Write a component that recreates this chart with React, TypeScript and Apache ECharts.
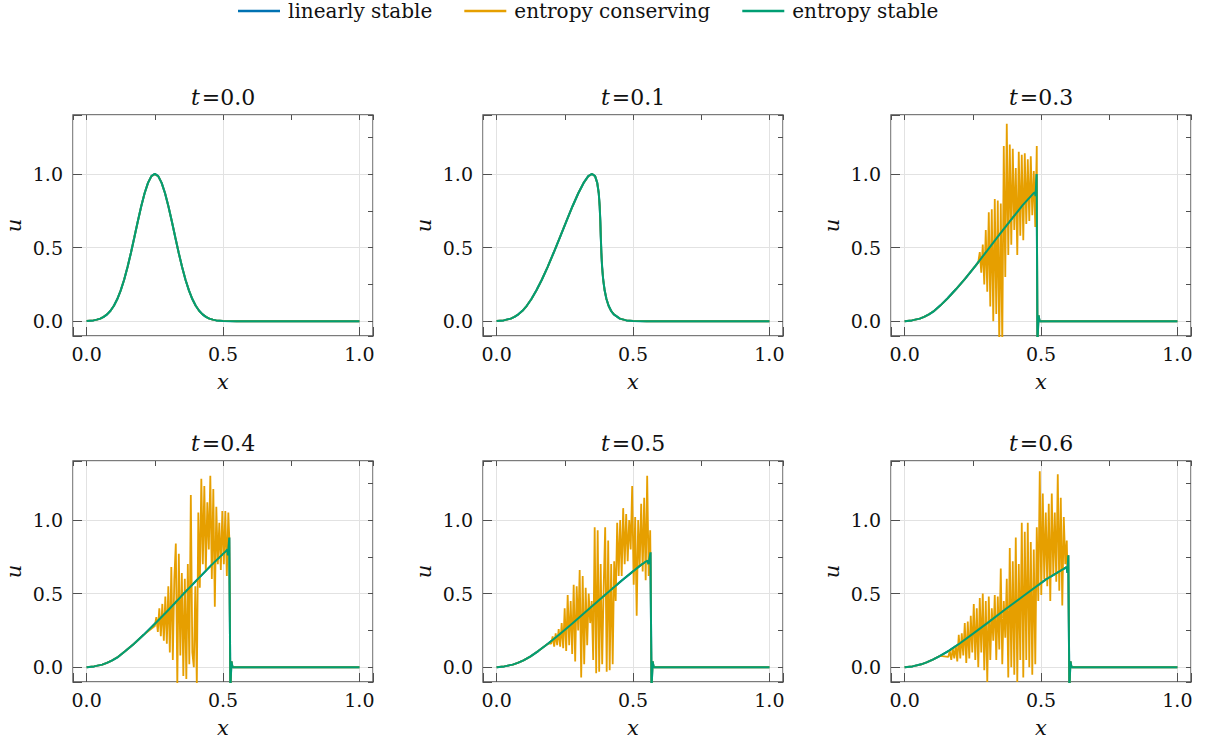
import React, { useEffect, useRef } from "react";
import * as echarts from "echarts";

const SERIES_NAMES = ["linearly stable", "entropy conserving", "entropy stable"];
const COLORS = ["#0072B2", "#E69F00", "#009E73"];
const TIMES = ["0.0", "0.1", "0.3", "0.4", "0.5", "0.6"];
const STEP = 0.0055; // grid spacing of the oscillating (entropy conserving) samples

// entropy stable / linearly stable profiles [x, u]
const es00: [number, number][] = [
  [0, 0.002], [0.0125, 0.004], [0.025, 0.006], [0.0375, 0.011], [0.05, 0.018], [0.0625, 0.03],
  [0.075, 0.047], [0.0875, 0.071], [0.1, 0.105], [0.1125, 0.151], [0.125, 0.21], [0.1375, 0.282],
  [0.15, 0.368], [0.1625, 0.465], [0.175, 0.57], [0.1875, 0.677], [0.2, 0.779], [0.2125, 0.869],
  [0.225, 0.939], [0.2375, 0.985], [0.25, 1.0], [0.2625, 0.985], [0.275, 0.939], [0.2875, 0.869],
  [0.3, 0.779], [0.3125, 0.677], [0.325, 0.57], [0.3375, 0.465], [0.35, 0.368], [0.3625, 0.282],
  [0.375, 0.21], [0.3875, 0.151], [0.4, 0.105], [0.4125, 0.071], [0.425, 0.047], [0.4375, 0.03],
  [0.45, 0.018], [0.4625, 0.011], [0.475, 0.006], [0.4875, 0.004], [0.5, 0.002], [0.55, 0], [1.0, 0],
];
const es01: [number, number][] = [
  [0, 0.002], [0.0256, 0.006], [0.0518, 0.018], [0.0655, 0.03], [0.0797, 0.047], [0.0946, 0.071],
  [0.1105, 0.105], [0.1276, 0.151], [0.146, 0.21], [0.1657, 0.282], [0.1868, 0.368], [0.209, 0.465],
  [0.232, 0.57], [0.2552, 0.677], [0.2779, 0.779], [0.2994, 0.869], [0.3189, 0.939], [0.336, 0.985],
  [0.35, 1.0], [0.361, 0.985], [0.3689, 0.939], [0.3744, 0.869], [0.3779, 0.779], [0.3802, 0.677],
  [0.382, 0.57], [0.384, 0.465], [0.3868, 0.368], [0.3907, 0.282], [0.396, 0.21], [0.4026, 0.151],
  [0.4105, 0.105], [0.4196, 0.071], [0.4297, 0.047], [0.4518, 0.018], [0.4756, 0.006], [0.5, 0.002],
  [0.55, 0], [1.0, 0],
];
const es03: [number, number][] = [
  [0, 0], [0.0268, 0.006], [0.0554, 0.018], [0.0715, 0.03], [0.0891, 0.047], [0.1088, 0.071],
  [0.1315, 0.108], [0.1578, 0.156], [0.188, 0.217], [0.2221, 0.29], [0.2604, 0.378], [0.302, 0.478],
  [0.346, 0.585], [0.3906, 0.69], [0.4337, 0.79], [0.4732, 0.87], [0.478, 0.875], [0.48, 0.85],
  [0.484, 1.0], [0.487, -0.15], [0.491, 0.04], [0.495, 0], [1.0, 0],
];
const es04: [number, number][] = [
  [0, 0], [0.0274, 0.006], [0.0572, 0.018], [0.0745, 0.03], [0.0938, 0.047], [0.1159, 0.071],
  [0.142, 0.11], [0.1729, 0.158], [0.209, 0.22], [0.2503, 0.295], [0.2972, 0.384], [0.3485, 0.485],
  [0.403, 0.59], [0.4583, 0.695], [0.5116, 0.79], [0.516, 0.8], [0.518, 0.76], [0.523, 0.88],
  [0.527, -0.15], [0.531, 0.04], [0.535, 0], [1.0, 0],
];
const es05: [number, number][] = [
  [0, 0], [0.028, 0.006], [0.059, 0.018], [0.0775, 0.03], [0.0985, 0.047], [0.123, 0.072],
  [0.1525, 0.11], [0.188, 0.16], [0.23, 0.222], [0.2785, 0.298], [0.334, 0.388], [0.395, 0.487],
  [0.46, 0.59], [0.526, 0.69], [0.553, 0.725], [0.557, 0.7], [0.564, 0.78], [0.568, -0.15],
  [0.572, 0.04], [0.576, 0], [1.0, 0],
];
const es06: [number, number][] = [
  [0, 0], [0.0286, 0.006], [0.0608, 0.02], [0.0805, 0.033], [0.1032, 0.052], [0.1301, 0.078],
  [0.163, 0.113], [0.2031, 0.163], [0.251, 0.228], [0.3067, 0.305], [0.3708, 0.395], [0.4415, 0.492],
  [0.517, 0.595], [0.5937, 0.68], [0.597, 0.64], [0.6, 0.76], [0.604, -0.15], [0.608, 0.04],
  [0.612, 0], [1.0, 0],
];

// entropy conserving oscillations: first x and sampled u values (spacing STEP)
const ec03Start = 0.27;
const ec03 = [
  0.4, 0.47, 0.33, 0.52, 0.25, 0.62, 0.2, 0.74, 0.1, 0.76,
  0.0, 0.83, 0.05, 0.82, -0.15, 0.8, -0.15, 1.19, 0.3, 1.34,
  0.45, 1.2, 0.52, 1.17, 0.62, 1.04, 0.45, 1.15, 0.58, 1.13,
  0.55, 1.14, 0.66, 1.1, 0.68, 1.12, 0.72, 1.02, 0.64, 1.19,
];
const ec04Start = 0.25;
const ec04 = [
  0.28, 0.34, 0.24, 0.4, 0.21, 0.43, 0.18, 0.48, 0.16, 0.55,
  0.1, 0.68, 0.05, 0.6, 0.84, -0.12, 0.77, 0.08, 0.64, -0.06,
  0.6, -0.08, 0.7, 0.02, 1.17, 0.1, 0.0, 0.55, -0.12, 1.05,
  0.54, 1.28, 0.7, 1.23, 0.65, 1.12, 0.8, 1.3, 0.6, 1.21,
  0.41, 1.09, 0.7, 0.98, 0.66, 1.06, 0.7, 1.06, 0.62, 1.05,
];
const ec05Start = 0.2;
const ec05 = [
  0.16, 0.21, 0.14, 0.23, 0.15, 0.26, 0.14, 0.3, 0.13, 0.4,
  0.11, 0.49, 0.15, 0.45, 0.09, 0.56, 0.04, 0.55, 0.25, 0.66,
  -0.07, 0.62, 0.02, 0.54, 0.15, 0.5, 0.3, 0.45, 0.05, 0.95,
  -0.04, 0.93, -0.03, 0.7, 0.02, 0.55, 0.95, -0.03, 0.86, -0.02,
  0.7, 0.02, 0.72, 0.45, 0.98, 0.62, 1.0, 0.62, 1.08, 0.7,
  1.04, 0.72, 1.0, 0.8, 1.23, 0.56, 1.02, 0.35, 1.0, 0.68,
  1.11, 0.65, 1.15, 0.59, 1.3, 0.62, 0.93,
];
const ec06Start = 0.16;
const ec06 = [
  0.07, 0.11, 0.05, 0.13, 0.06, 0.15, 0.04, 0.22, 0.06, 0.23,
  0.08, 0.3, 0.03, 0.31, 0.06, 0.35, 0.1, 0.43, 0.05, 0.4,
  0.0, 0.47, 0.1, 0.5, -0.02, 0.45, -0.1, 0.48, 0.05, 0.4,
  0.18, 0.49, 0.05, 0.48, 0.12, 0.67, 0.02, 0.45, 0.2, 0.6,
  -0.07, 0.81, 0.0, 0.72, -0.05, 0.88, -0.1, 0.7, 0.05, 0.98,
  -0.07, 0.92, 0.05, 0.98, 0.0, 0.85, -0.05, 0.8, 0.02, 0.95,
  0.45, 1.33, 0.49, 1.18, 0.6, 1.05, 0.55, 1.11, 0.45, 1.18,
  0.62, 1.05, 0.58, 1.31, 0.52, 1.15, 0.42, 1.02, 0.7, 0.86,
];

const STABLE = [es00, es01, es03, es04, es05, es06];
const CONSERVING: (null | { start: number; u: number[] })[] = [
  null,
  null,
  { start: ec03Start, u: ec03 },
  { start: ec04Start, u: ec04 },
  { start: ec05Start, u: ec05 },
  { start: ec06Start, u: ec06 },
];

const FONT = "'DejaVu Serif', serif";
const FS_TICK = 19;
const FS_LEG = 20;
const FS_TITLE = 22;
const FS_NAME = 21;
const TXT = "#111111";
const FRAME = "#505050";
const COL_LEFT = [73, 483, 891];
const ROW_TOP = [115, 461];
const PW = 300;
const PH = 221;

function conservingData(i: number): [number, number][] {
  const base = STABLE[i];
  const c = CONSERVING[i];
  if (!c) return base;
  const pts: [number, number][] = c.u.map((u, k) => [+(c.start + k * STEP).toFixed(4), u]);
  const end = pts[pts.length - 1][0];
  return [
    ...base.filter((p) => p[0] < c.start),
    ...pts,
    ...base.filter((p) => p[0] > end),
  ];
}

const halfFmt = (v: number) => {
  const r = Math.round(v * 2) / 2;
  return Math.abs(v - r) < 1e-6 ? r.toFixed(1) : "";
};

function buildOption() {
  const grid: any[] = [];
  const xAxis: any[] = [];
  const yAxis: any[] = [];
  const series: any[] = [];
  const graphic: any[] = [];
  for (let i = 0; i < 6; i++) {
    const col = i % 3;
    const row = Math.floor(i / 3);
    const left = COL_LEFT[col];
    const top = ROW_TOP[row];
    grid.push({
      left, top, width: PW, height: PH, show: true,
      borderColor: FRAME, borderWidth: 1.3, backgroundColor: "transparent",
    });
    const common = {
      type: "value",
      gridIndex: i,
      axisLine: { show: false, onZero: false },
    };
    xAxis.push({
      ...common, min: -0.05, max: 1.05, splitNumber: 2, minInterval: 0.5, maxInterval: 0.5,
      axisTick: { show: true, inside: true, length: 9, lineStyle: { color: FRAME, width: 1 } },
      axisLabel: { formatter: halfFmt, margin: 8, fontFamily: FONT, fontSize: FS_TICK, color: TXT },
      splitLine: { show: true, lineStyle: { color: "#e2e2e2", width: 1 } },
    });
    xAxis.push({
      ...common, min: -0.05, max: 1.05, splitNumber: 4, minInterval: 0.25, maxInterval: 0.25,
      axisTick: { show: true, inside: true, length: 5, lineStyle: { color: FRAME, width: 1 } },
      axisLabel: { show: false }, splitLine: { show: false },
    });
    yAxis.push({
      ...common, min: -0.1, max: 1.4, splitNumber: 3, minInterval: 0.5, maxInterval: 0.5,
      axisTick: { show: true, inside: true, length: 9, lineStyle: { color: FRAME, width: 1 } },
      axisLabel: { formatter: halfFmt, margin: 10, fontFamily: FONT, fontSize: FS_TICK, color: TXT },
      splitLine: { show: true, lineStyle: { color: "#e2e2e2", width: 1 } },
    });
    yAxis.push({
      ...common, min: -0.1, max: 1.4, splitNumber: 6, minInterval: 0.25, maxInterval: 0.25,
      axisTick: { show: true, inside: true, length: 5, lineStyle: { color: FRAME, width: 1 } },
      axisLabel: { show: false }, splitLine: { show: false },
    });
    const dataSets = [STABLE[i], conservingData(i), STABLE[i]];
    for (let s = 0; s < 3; s++) {
      series.push({
        name: SERIES_NAMES[s],
        type: "line",
        xAxisIndex: 2 * i,
        yAxisIndex: 2 * i,
        data: dataSets[s],
        symbol: "none",
        showSymbol: false,
        clip: true,
        z: 2 + s,
        lineStyle: { color: COLORS[s], width: s === 1 ? 1.8 : 2 },
        itemStyle: { color: COLORS[s] },
      });
    }
    const cx = left + PW / 2;
    graphic.push({
      type: "text", x: cx, y: row === 0 ? 97 : 443,
      style: {
        text: `{i|t}=${TIMES[i]}`,
        rich: { i: { fontStyle: "italic", fontFamily: FONT, fontSize: FS_TITLE, fill: TXT, padding: [0, 2, 0, 0] } },
        fontFamily: FONT, fontSize: FS_TITLE, fill: TXT,
        align: "center", verticalAlign: "middle", textAlign: "center", textVerticalAlign: "middle",
      },
    });
    graphic.push({
      type: "text", x: cx, y: row === 0 ? 382 : 728,
      style: {
        text: "x", fontStyle: "italic", fontFamily: FONT, fontSize: FS_NAME, fill: TXT,
        align: "center", verticalAlign: "middle", textAlign: "center", textVerticalAlign: "middle",
      },
    });
    graphic.push({
      type: "text", x: left - 59, y: top + PH / 2, rotation: Math.PI / 2,
      style: {
        text: "u", fontStyle: "italic", fontFamily: FONT, fontSize: FS_NAME, fill: TXT,
        align: "center", verticalAlign: "middle", textAlign: "center", textVerticalAlign: "middle",
      },
    });
  }
  return {
    animation: false,
    backgroundColor: "#ffffff",
    color: COLORS,
    legend: {
      data: SERIES_NAMES,
      left: 238,
      top: 1,
      padding: 0,
      icon: "rect",
      itemWidth: 42,
      itemHeight: 2.5,
      itemGap: 32,
      textStyle: { fontFamily: FONT, fontSize: FS_LEG, color: TXT, padding: [0, 0, 0, 3] },
    },
    grid,
    xAxis,
    yAxis,
    series,
    graphic,
  };
}

export default function App() {
  const ref = useRef<HTMLDivElement>(null);
  useEffect(() => {
    if (!ref.current) return;
    const chart = echarts.init(ref.current, undefined, { renderer: "svg" });
    chart.setOption(buildOption() as any);
    return () => chart.dispose();
  }, []);
  return (
    <div
      ref={ref}
      style={{ position: "fixed", left: 0, top: 0, width: 1206, height: 742, background: "#fff" }}
    />
  );
}
